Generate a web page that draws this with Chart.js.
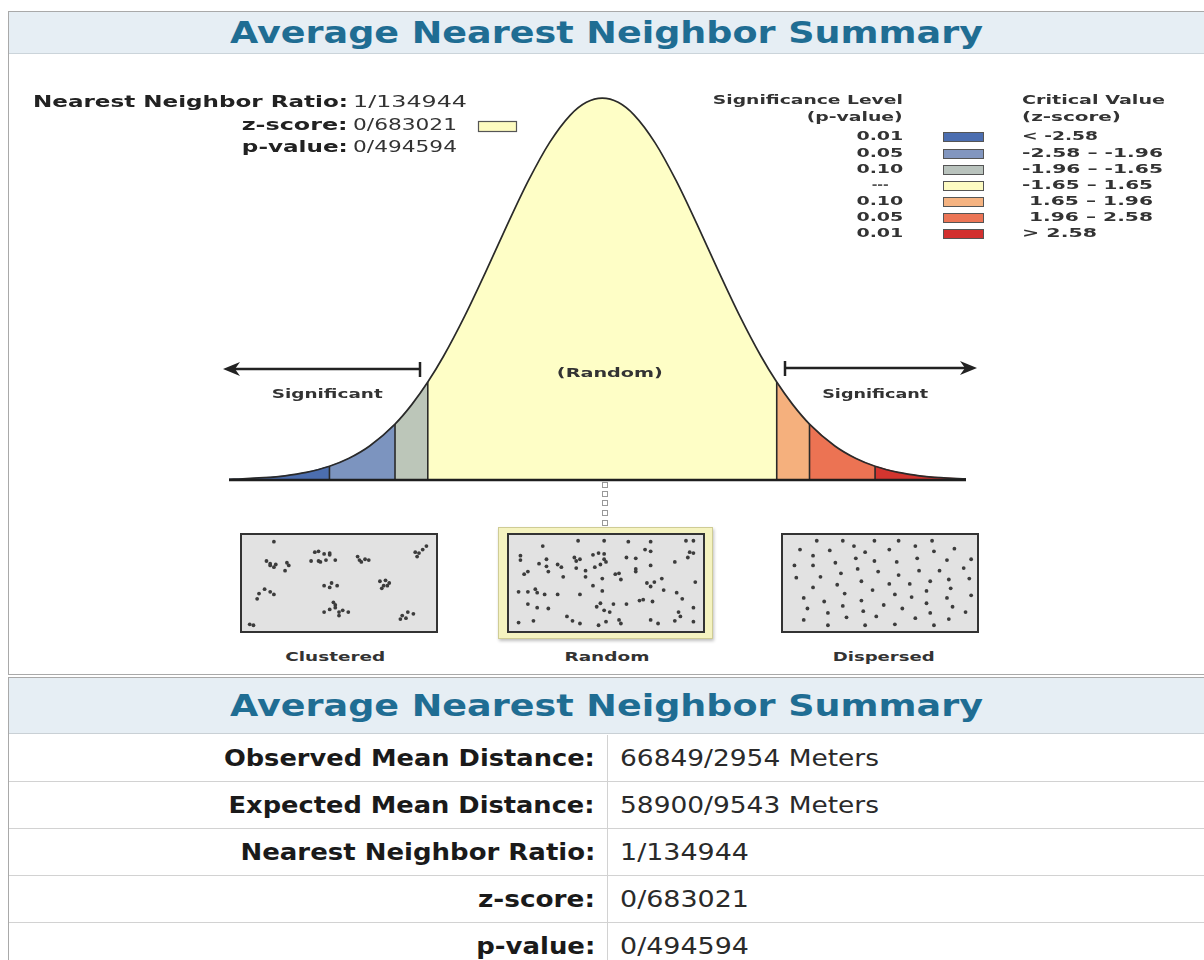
<!DOCTYPE html>
<html><head><meta charset="utf-8">
<script src="https://cdn.jsdelivr.net/npm/chart.js@4.4.1/dist/chart.umd.min.js"></script>
<style>
html,body{margin:0;padding:0;background:#fff;width:1204px;height:960px;overflow:hidden;position:relative;font-family:"DejaVu Sans",Verdana,sans-serif;}
.box{position:absolute;box-sizing:border-box;}
.t{position:absolute;white-space:nowrap;line-height:1;}
canvas{position:absolute;}
</style></head><body>
<!-- top panel -->
<div class="box" style="left:8px;top:11px;width:1210px;height:664px;border:1px solid #a9a9a9;"></div>
<div class="box" style="left:9px;top:12px;width:1200px;height:42px;background:#e6eef4;border-bottom:1px solid #cbd4da;"></div>
<!-- bottom panel -->
<div class="box" style="left:8px;top:677px;width:1210px;height:300px;border:1px solid #a9a9a9;"></div>
<div class="box" style="left:9px;top:678px;width:1200px;height:56px;background:#e6eef4;border-bottom:1px solid #c9d0d5;"></div>
<svg width="1204" height="960" style="position:absolute;left:0;top:0;" id="deco">
  <line x1="230" y1="369" x2="420" y2="369" stroke="#222" stroke-width="2.5"/>
  <polygon points="223,369 240,362 235,369 240,376" fill="#222"/>
  <line x1="420" y1="362" x2="420" y2="377" stroke="#222" stroke-width="2.5"/>
  <line x1="785" y1="368" x2="970" y2="368" stroke="#222" stroke-width="2.5"/>
  <polygon points="977,368 960,361 965,368 960,375" fill="#222"/>
  <line x1="785" y1="361" x2="785" y2="376" stroke="#222" stroke-width="2.5"/>
  <circle cx="605" cy="478" r="2.2" fill="#333"/>
  <rect x="602.5" y="482.5" width="5" height="5" fill="#fff" stroke="#999"/>
  <rect x="602.5" y="491.5" width="5" height="5" fill="#fff" stroke="#999"/>
  <rect x="602.5" y="500.5" width="5" height="5" fill="#fff" stroke="#999"/>
  <rect x="602.5" y="510.5" width="5" height="5" fill="#fff" stroke="#999"/>
  <rect x="602.5" y="520.5" width="5" height="5" fill="#fff" stroke="#999"/>
  <rect x="478.5" y="121.5" width="38" height="10" fill="#fdfbc0" stroke="#555" stroke-width="1.2"/>
</svg>
<div class="box" style="left:240px;top:533px;width:198px;height:100px;background:#e2e2e2;border:2px solid #333;"></div>
<div class="box" style="left:498px;top:527px;width:215px;height:112px;background:#f5f3c0;border:1px solid #cfcc95;box-shadow:1px 2px 3px rgba(0,0,0,0.25);"></div>
<div class="box" style="left:507px;top:533px;width:198px;height:100px;background:#e2e2e2;border:2px solid #333;"></div>
<div class="box" style="left:781px;top:533px;width:198px;height:100px;background:#e2e2e2;border:2px solid #333;"></div>
<canvas id="main" width="749" height="395" style="left:223px;top:91px;"></canvas>
<canvas id="pc" width="194" height="96" style="left:242px;top:535px;"></canvas>
<canvas id="pr" width="194" height="96" style="left:509px;top:535px;"></canvas>
<canvas id="pd" width="194" height="96" style="left:783px;top:535px;"></canvas>
<script>
// ---------- data ----------
const titleText = "Average Nearest Neighbor Summary";
const zGrid = [-3.53,-3.4,-3.2,-3.0,-2.8,-2.58,-2.4,-2.2,-1.96,-1.8,-1.65,-1.5,-1.3,-1.1,-0.9,-0.7,-0.5,-0.3,-0.15,0,0.15,0.3,0.5,0.7,0.9,1.1,1.3,1.5,1.65,1.8,1.96,2.2,2.4,2.58,2.8,3.0,3.2,3.44];
const density = [0.0008,0.0012,0.0024,0.0044,0.0079,0.0143,0.0224,0.0355,0.0584,0.0790,0.1023,0.1295,0.1714,0.2179,0.2661,0.3123,0.3521,0.3814,0.3945,0.3989,0.3945,0.3814,0.3521,0.3123,0.2661,0.2179,0.1714,0.1295,0.1023,0.0790,0.0584,0.0355,0.0224,0.0143,0.0079,0.0044,0.0024,0.0011];
const cutZ = [-2.58,-1.96,-1.65,1.65,1.96,2.58];
const regionColors = ['#4c6eaf','#7c94bf','#bcc6b9','#fefec6','#f5b07d','#ec7353','#d3352f'];
const legendP = ['0.01','0.05','0.10','---','0.10','0.05','0.01'];
const legendZ = ['< -2.58','-2.58 – -1.96','-1.96 – -1.65','-1.65 – 1.65',' 1.65 – 1.96',' 1.96 – 2.58','> 2.58'];
const swatchColors = ['#4c6eb0','#8296bf','#b9c3bd','#fdfbc2','#f5b381','#ec7556','#d2302f'];
const summaryLabels = ['Nearest Neighbor Ratio:','z-score:','p-value:'];
const summaryValues = ['1/134944','0/683021','0/494594'];
const tableLabels = ['Observed Mean Distance:','Expected Mean Distance:','Nearest Neighbor Ratio:','z-score:','p-value:'];
const tableValues = ['66849/2954 Meters','58900/9543 Meters','1/134944','0/683021','0/494594'];
const patternLabels = ['Clustered','Random','Dispersed'];
const clusteredPts = [[15,3],[11,25],[13,30],[15,32],[13,28],[16,29],[22,27],[23,30],[21,36],[37,15],[39,14],[42,17],[45,16],[39,25],[40,26],[43,24],[45,18],[48,24],[35,25],[60,20],[61,24],[64,23],[66,24],[62,26],[91,15],[93,16],[95,12],[92,20],[97,8],[42,53],[46,50],[49,53],[45,55],[72,48],[75,47],[77,50],[74,53],[73,56],[76,53],[7,62],[10,57],[13,60],[15,63],[6,68],[47,72],[45,80],[48,78],[50,83],[52,81],[42,83],[55,83],[50,87],[48,75],[84,87],[87,83],[90,85],[86,90],[83,91],[2,97],[4,98]];
const randomPts = [[16,8],[35,2],[49,2],[62,3],[74,3],[93,2],[97,2],[4,19],[4,24],[18,23],[33,21],[36,23],[34,25],[43,18],[46,16],[49,17],[49,23],[61,21],[66,22],[71,12],[74,14],[94,21],[95,15],[97,16],[14,28],[18,31],[24,29],[26,32],[34,33],[39,36],[44,32],[47,29],[50,26],[57,39],[55,40],[66,34],[66,37],[74,30],[87,26],[8,37],[6,40],[19,37],[27,43],[39,43],[48,45],[58,46],[72,50],[76,49],[80,45],[74,54],[81,58],[98,49],[43,53],[3,60],[8,60],[12,57],[13,61],[17,63],[24,63],[36,63],[48,59],[70,69],[68,70],[75,71],[88,61],[91,68],[8,74],[13,78],[19,79],[47,73],[45,77],[49,81],[52,83],[54,74],[61,74],[89,83],[90,88],[97,78],[3,95],[11,93],[29,88],[32,93],[36,96],[46,98],[50,94],[57,92],[58,96],[74,92],[78,96],[87,93],[97,94]];
const dispersedPts = [[16,2],[30,2],[47,2],[60,2],[78,2],[7,12],[23,13],[36,8],[42,15],[55,12],[69,8],[79,14],[90,11],[14,19],[37,22],[47,25],[59,26],[70,22],[86,24],[99,23],[4,30],[14,30],[26,27],[38,34],[49,37],[71,36],[82,36],[95,33],[5,44],[18,43],[29,39],[40,48],[60,41],[77,48],[87,46],[98,45],[14,55],[27,52],[46,58],[55,51],[66,51],[75,59],[88,56],[9,67],[20,71],[31,62],[40,70],[58,63],[67,66],[86,67],[99,64],[11,79],[22,84],[30,76],[41,82],[52,75],[62,79],[75,73],[89,77],[9,92],[32,89],[48,88],[69,90],[77,84],[87,91],[96,83],[22,98],[42,98],[58,97],[79,98]];

// ---------- text helper ----------
const FONT = '"DejaVu Sans", Verdana, sans-serif';
function T(txt, x, y, w, align, size, weight, color) {
  const s = document.createElement('span');
  s.className = 't';
  s.textContent = txt;
  s.style.fontSize = size + 'px';
  s.style.fontWeight = weight;
  s.style.color = color || '#222';
  s.style.fontFamily = FONT;
  s.style.whiteSpace = 'pre';
  document.body.appendChild(s);
  const w0 = s.getBoundingClientRect().width;
  const k = w ? w / w0 : 1;
  const left = align === 'left' ? x : (align === 'right' ? x - w0 : x - w0 / 2);
  s.style.left = left + 'px';
  s.style.top = (y - size * 0.5) + 'px';
  s.style.transformOrigin = align === 'left' ? 'left center' : (align === 'right' ? 'right center' : 'center center');
  s.style.transform = 'scaleX(' + k + ')';
  return s;
}

T(titleText, 230, 32, 753, 'left', 31, 'bold', '#1f6d93');
T(titleText, 230, 705, 753, 'left', 31, 'bold', '#1f6d93');

const sumY = [102, 125, 147];
const sumLW = [315, 106, 106];
const sumVW = [114, 104, 104];
summaryLabels.forEach((l, i) => {
  T(l, 348, sumY[i], sumLW[i], 'right', 15, 'bold', '#222');
  T(summaryValues[i], 353, sumY[i], sumVW[i], 'left', 15, 'normal', '#333');
});

T('Significance Level', 903, 101, 190, 'right', 11.5, 'bold', '#333');
T('(p-value)', 903, 118, 96, 'right', 11.5, 'bold', '#333');
T('Critical Value', 1022, 101, 143, 'left', 11.5, 'bold', '#333');
T('(z-score)', 1022, 118, 99, 'left', 11.5, 'bold', '#333');
const legY = [137, 154, 170, 186, 202, 218, 234];
const zW = [76, 141, 141, 131, 131, 131, 75];
legendP.forEach((p, i) => {
  if (p === '---') T(p, 880, legY[i], 17, 'center', 11.5, 'bold', '#555');
  else T(p, 903, legY[i], 47, 'right', 11.5, 'bold', '#333');
  const sw = document.createElement('div');
  sw.className = 'box';
  sw.style.cssText = 'left:943px;top:' + (legY[i] - 5) + 'px;width:41px;height:10px;background:' + swatchColors[i] + ';border:1px solid #555;';
  document.body.appendChild(sw);
  T(legendZ[i], 1022, legY[i], zW[i], 'left', 11.5, 'bold', '#333');
});

T('Significant', 327, 393, 111, 'center', 13, 'bold', '#333');
T('(Random)', 610, 372, 106, 'center', 13, 'bold', '#333');
T('Significant', 875, 393, 106, 'center', 13, 'bold', '#333');
const patX = [335, 607, 884];
const patW = [100, 85, 102];
patternLabels.forEach((l, i) => T(l, patX[i], 656, patW[i], 'center', 13, 'bold', '#333'));

const rowTop = 734, rowH = 47;
for (let i = 1; i < 6; i++) {
  const ln = document.createElement('div');
  ln.className = 'box';
  ln.style.cssText = 'left:9px;top:' + (rowTop + i * rowH) + 'px;width:1200px;height:1px;background:#d2d2d2;';
  document.body.appendChild(ln);
}
const dv = document.createElement('div');
dv.className = 'box';
dv.style.cssText = 'left:607px;top:735px;width:1px;height:240px;background:#d2d2d2;';
document.body.appendChild(dv);
const tLW = [371, 366, 355, 117, 119];
const tVW = [259, 259, 129, 129, 129];
tableLabels.forEach((l, i) => {
  const y = rowTop + rowH * i + 24;
  T(l, 595, y, tLW[i], 'right', 22.5, 'bold', '#1a1a1a');
  T(tableValues[i], 620, y, tVW[i], 'left', 22.5, 'normal', '#2a2a2a');
});

// ---------- bell curve chart ----------
const curvePts = zGrid.map((z, i) => ({x: z, y: density[i]}));
const edges = [zGrid[0], ...cutZ, zGrid[zGrid.length - 1]];
const datasets = [];
datasets.push({
  data: [{x: zGrid[0], y: 0}, {x: zGrid[zGrid.length - 1], y: 0}],
  borderColor: '#1e1e1e', borderWidth: 2.5, pointRadius: 0, fill: false, order: 0, clip: false
});
datasets.push({
  data: curvePts, borderColor: '#2a2a2a', borderWidth: 1.7, pointRadius: 0, fill: false,
  cubicInterpolationMode: 'monotone', order: 1, clip: false
});
cutZ.forEach(c => {
  const d = density[zGrid.indexOf(c)];
  datasets.push({
    data: [{x: c, y: 0}, {x: c, y: d}], borderColor: '#2a2a2a', borderWidth: 1.6,
    pointRadius: 0, fill: false, order: 2, clip: false
  });
});
for (let r = 0; r < edges.length - 1; r++) {
  const lo = edges[r], hi = edges[r + 1];
  const pts = curvePts.filter(p => p.x >= lo - 1e-9 && p.x <= hi + 1e-9);
  datasets.push({
    data: pts, borderColor: regionColors[r], borderWidth: 1, backgroundColor: regionColors[r],
    fill: 'origin', pointRadius: 0, cubicInterpolationMode: 'monotone', order: 10, clip: false
  });
}
new Chart(document.getElementById('main'), {
  type: 'line',
  data: {datasets},
  options: {
    responsive: false, animation: false,
    layout: {padding: 6},
    plugins: {legend: {display: false}, tooltip: {enabled: false}, title: {display: false}},
    scales: {
      x: {type: 'linear', min: zGrid[0], max: zGrid[zGrid.length - 1], display: false},
      y: {type: 'linear', min: 0, max: 0.4, display: false}
    }
  }
});

function pattern(id, pts) {
  new Chart(document.getElementById(id), {
    type: 'scatter',
    data: {datasets: [{data: pts.map(p => ({x: p[0], y: p[1]})), pointRadius: 1.9,
      pointBackgroundColor: '#3c3c3c', pointBorderWidth: 0, clip: false}]},
    options: {
      responsive: false, animation: false,
      layout: {padding: 1},
      plugins: {legend: {display: false}, tooltip: {enabled: false}},
      scales: {
        x: {type: 'linear', min: 0, max: 100, display: false},
        y: {type: 'linear', min: 0, max: 100, reverse: true, display: false}
      }
    }
  });
}
pattern('pc', clusteredPts);
pattern('pr', randomPts);
pattern('pd', dispersedPts);
</script>
</body></html>
